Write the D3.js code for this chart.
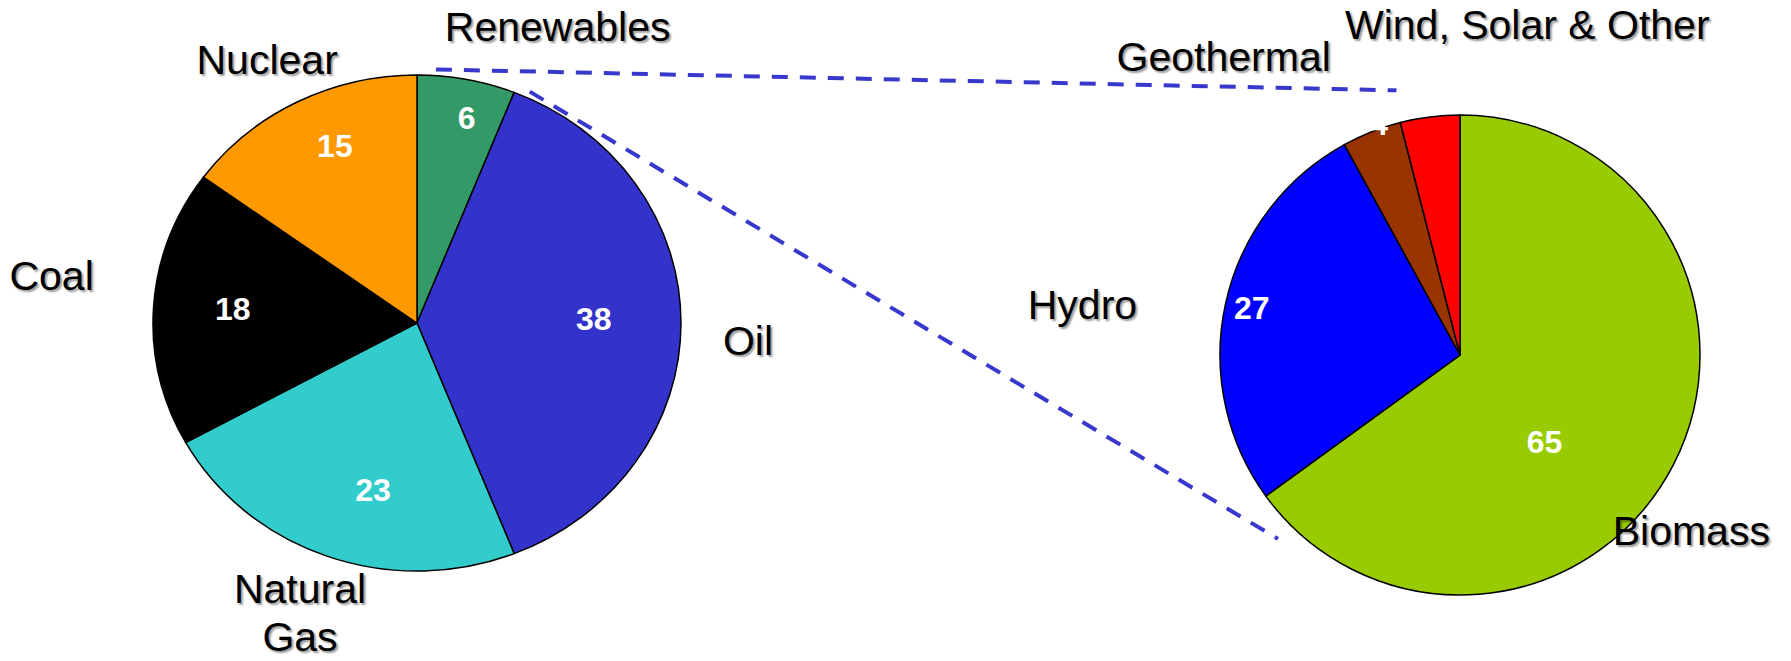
<!DOCTYPE html>
<html>
<head>
<meta charset="utf-8">
<script src="https://cdn.jsdelivr.net/npm/d3@7"></script>
<style>
    body { margin: 0; background: #fff; }
    .cat { font-family: "Liberation Sans", Arial, sans-serif; font-size: 41px; fill: #000;
           text-shadow: 2px 2px 2px rgba(0, 0, 0, 0.4); }
    .val { font-family: "Liberation Sans", Arial, sans-serif; font-size: 32px; font-weight: bold; fill: #fff; }
</style>
</head>
<body>
<div id="chart"></div>
<script>
// energy mix (left pie)
const mixNames = ["Renewables", "Oil", "Natural Gas", "Coal", "Nuclear"];
const mixValues = [6, 38, 23, 18, 15];
const mixColors = ["#339966", "#3333CC", "#33CCCC", "#000000", "#FF9900"];

// breakdown of renewables (right pie)
const renNames = ["Biomass", "Hydro", "Geothermal", "Wind, Solar & Other"];
const renValues = [65, 27, 4, 4];
const renColors = ["#99CC00", "#0000FF", "#993300", "#FF0000"];

function init() {
    let w = 1791;
    let h = 661;

    let svg = d3.select("#chart")
        .append("svg")
        .attr("width", w)
        .attr("height", h);

    // pie frames; the left one is a bit squashed, like in the original
    const left = { cx: 417, cy: 323, rx: 264, ry: 248 };
    const right = { cx: 1460, cy: 355, rx: 240, ry: 240 };

    // where the labels sit: [angle in degrees clockwise from top, radius factor]
    const leftValPos = [[12.8, 0.85], [88.6, 0.67], [194, 0.69], [274.7, 0.70], [336.5, 0.78]];
    const leftCatPos = [[24, 1.31], [93.3, 1.256], [200.8, 1.248], [277.8, 1.397], [331.9, 1.205]];
    const rightValPos = [[135.8, 0.505], [282.8, 0.89], [340.7, 1.02], null];
    const rightCatPos = [[127.2, 1.21], [277.6, 1.587], [321.6, 1.585], [11.5, 1.406]];

    function polar(f, deg, k) {
        const a = deg * Math.PI / 180;
        return [f.cx + f.rx * k * Math.sin(a), f.cy - f.ry * k * Math.cos(a)];
    }

    // connector lines from the renewables slice to the second pie
    const links = [
        [polar(left, 4, 1.025), polar(right, 346.5, 1.134)],
        [polar(left, 24.6, 1.026), polar(right, 224.7, 1.078)]
    ];
    svg.selectAll(".link")
        .data(links)
        .enter()
        .append("line")
        .attr("class", "link")
        .attr("x1", d => d[0][0])
        .attr("y1", d => d[0][1])
        .attr("x2", d => d[1][0])
        .attr("y2", d => d[1][1])
        .attr("stroke", "#3838CC")
        .attr("stroke-width", 4)
        .attr("stroke-dasharray", "16 12");

    function drawPie(f, values, colors) {
        const pie = d3.pie().sort(null).value(d => d)(values);
        const arc = d3.arc().innerRadius(0).outerRadius(f.ry);
        svg.append("g")
            .attr("transform", "translate(" + f.cx + "," + f.cy + ") scale(" + (f.rx / f.ry) + ",1)")
            .selectAll("path")
            .data(pie)
            .enter()
            .append("path")
            .attr("d", arc)
            .attr("fill", (d, i) => colors[i])
            .attr("stroke", "black")
            .attr("stroke-width", 1.5)
            .attr("vector-effect", "non-scaling-stroke");
    }

    function drawValues(f, values, pos) {
        svg.append("g")
            .selectAll("text")
            .data(values.map((v, i) => ({ v: v, p: pos[i] })).filter(d => d.p))
            .enter()
            .append("text")
            .attr("class", "val")
            .attr("text-anchor", "middle")
            .attr("dy", "0.36em")
            .attr("x", d => polar(f, d.p[0], d.p[1])[0])
            .attr("y", d => polar(f, d.p[0], d.p[1])[1])
            .text(d => d.v);
    }

    function drawNames(f, names, pos) {
        const t = svg.append("g")
            .selectAll("text")
            .data(names.map((n, i) => ({ n: n, p: pos[i] })))
            .enter()
            .append("text")
            .attr("class", "cat")
            .attr("text-anchor", "middle")
            .attr("x", d => polar(f, d.p[0], d.p[1])[0])
            .attr("y", d => polar(f, d.p[0], d.p[1])[1]);
        // "Natural Gas" is broken over two lines
        t.each(function (d) {
            const words = d.n === "Natural Gas" ? ["Natural", "Gas"] : [d.n];
            const x = d3.select(this).attr("x");
            d3.select(this).selectAll("tspan")
                .data(words)
                .enter()
                .append("tspan")
                .attr("x", x)
                .attr("dy", (s, i) => i === 0 ? (0.35 - (words.length - 1) * 0.585) + "em" : "1.17em")
                .text(s => s);
        });
    }

    drawPie(left, mixValues, mixColors);
    drawPie(right, renValues, renColors);
    drawValues(left, mixValues, leftValPos);
    drawValues(right, renValues, rightValPos);
    drawNames(left, mixNames, leftCatPos);
    drawNames(right, renNames, rightCatPos);
}

window.addEventListener('load', init);
</script>
</body>
</html>
